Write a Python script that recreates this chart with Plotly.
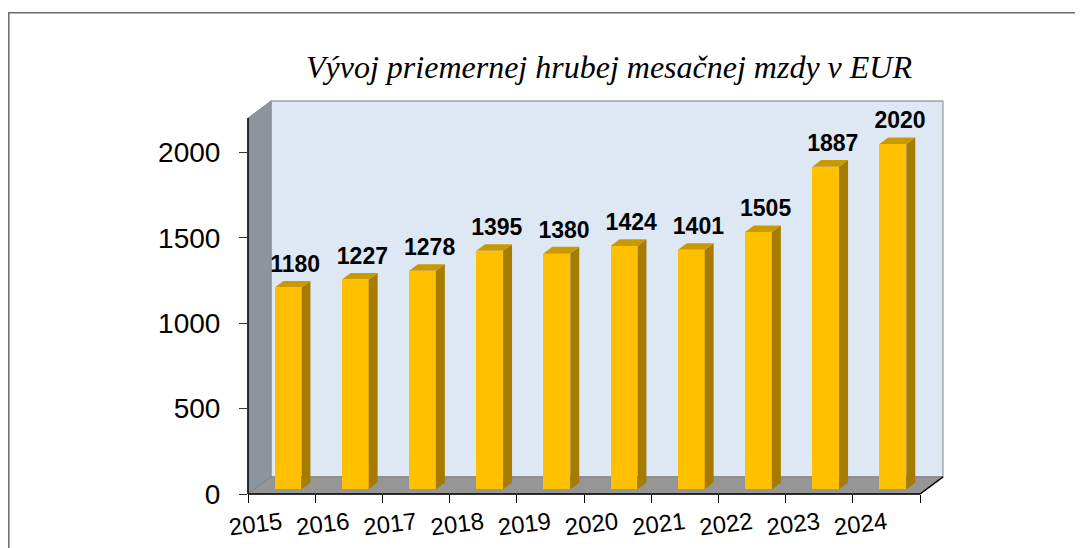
import plotly.graph_objects as go

# ---------------- data ----------------
years = ['2015', '2016', '2017', '2018', '2019', '2020', '2021', '2022', '2023', '2024']
wages = [1180, 1227, 1278, 1395, 1380, 1424, 1401, 1505, 1887, 2020]
y_tick_values = [0, 500, 1000, 1500, 2000]
title_text = 'Vývoj priemernej hrubej mesačnej mzdy v EUR'

# ---------------- geometry / style ----------------
OFF = 8                      # page body margin
W, H = 1075, 540
# target pixel positions in the screenshot
PLOT_LEFT, PLOT_RIGHT, PLOT_TOP, PLOT_BOTTOM = 248, 943, 101, 494
ML = PLOT_LEFT - OFF
MR = W - (PLOT_RIGHT - OFF)
MT = PLOT_TOP - OFF
MB = H - (PLOT_BOTTOM - OFF)
PLOT_W = W - ML - MR
PLOT_H = H - MT - MB

N = len(years)
Y_AXIS_MAX = 2200
DEPTH_X = 0.342        # depth offset in category units
DEPTH_Y = 100          # depth offset in value units
XMAX = N + DEPTH_X
YMAX = Y_AXIS_MAX + DEPTH_Y

BAR_W = 0.4
F_FRONT = 0.28
F_DEPTH = 0.39

FRONT = '#FFC000'
SIDE = '#A57B00'
TOP = '#C99A00'
WALL_BACK = '#DEE8F5'
WALL_LEFT = '#8C959E'
FLOOR = '#969696'


def dpx(x):  # data x -> paper
    return x / XMAX


def dpy(y):  # data y -> paper
    return y / YMAX


def ppx(p):  # screenshot pixel x -> paper
    return (p - PLOT_LEFT) / PLOT_W


def ppy(p):  # screenshot pixel y -> paper
    return (PLOT_BOTTOM - p) / PLOT_H


def path(points):
    return 'M ' + ' L '.join(f'{dpx(x):.6f},{dpy(y):.6f}' for x, y in points) + ' Z'


fig = go.Figure()

# bar front faces
base = F_FRONT * DEPTH_Y
cx = [i + 0.5 + F_FRONT * DEPTH_X for i in range(N)]
fig.add_trace(go.Bar(x=cx, y=wages, base=base, width=BAR_W,
                     marker=dict(color=FRONT, line=dict(width=0)),
                     hoverinfo='skip', showlegend=False))

ddx = F_DEPTH * DEPTH_X
ddy = F_DEPTH * DEPTH_Y

# side and top faces
sx, sy = [], []
tx, ty = [], []
for c, v in zip(cx, wages):
    xl, xr = c - BAR_W / 2, c + BAR_W / 2
    yb, yt = base, base + v
    sx += [xr, xr + ddx, xr + ddx, xr, xr, None]
    sy += [yb, yb + ddy, yt + ddy, yt, yb, None]
    tx += [xl, xr, xr + ddx, xl + ddx, xl, None]
    ty += [yt, yt, yt + ddy, yt + ddy, yt, None]

fig.add_trace(go.Scatter(x=sx, y=sy, mode='lines', fill='toself', fillcolor=SIDE,
                         line=dict(width=0, color=SIDE), hoverinfo='skip', showlegend=False))
fig.add_trace(go.Scatter(x=tx, y=ty, mode='lines', fill='toself', fillcolor=TOP,
                         line=dict(width=0, color=TOP), hoverinfo='skip', showlegend=False))

# data labels
fig.add_trace(go.Scatter(
    x=[c + ddx / 2 + 0.04 for c in cx],
    y=[base + v + ddy + 20 for v in wages],
    mode='text', text=[f'<b>{v}</b>' for v in wages], textposition='top center',
    textfont=dict(family='Liberation Sans, Arial', size=23, color='black'),
    cliponaxis=False, hoverinfo='skip', showlegend=False))

shapes = []
# outer frame
shapes.append(dict(type='rect', xref='paper', yref='paper', layer='below',
                   x0=ppx(8.8), x1=ppx(1110), y0=ppy(590), y1=ppy(12.7),
                   line=dict(color='#6B6B6B', width=1.5), fillcolor='white'))
# back wall
shapes.append(dict(type='path', xref='paper', yref='paper', layer='below',
                   path=path([(DEPTH_X, DEPTH_Y), (N + DEPTH_X, DEPTH_Y),
                              (N + DEPTH_X, YMAX), (DEPTH_X, YMAX)]),
                   fillcolor=WALL_BACK, line=dict(color='#A0A0A0', width=1.3)))
# left wall
shapes.append(dict(type='path', xref='paper', yref='paper', layer='below',
                   path=path([(0, 0), (DEPTH_X, DEPTH_Y), (DEPTH_X, YMAX), (0, Y_AXIS_MAX)]),
                   fillcolor=WALL_LEFT, line=dict(color='#8A8A8A', width=1)))
# floor
shapes.append(dict(type='path', xref='paper', yref='paper', layer='below',
                   path=path([(0, 0), (N, 0), (N + DEPTH_X, DEPTH_Y), (DEPTH_X, DEPTH_Y)]),
                   fillcolor=FLOOR, line=dict(color='#7F7F7F', width=1)))
# axis lines
for (x0, y0, x1, y1) in [(0, 0, 0, Y_AXIS_MAX), (0, 0, N, 0), (N, 0, N + DEPTH_X, DEPTH_Y)]:
    shapes.append(dict(type='line', xref='paper', yref='paper', layer='above',
                       x0=dpx(x0), y0=dpy(y0), x1=dpx(x1), y1=dpy(y1),
                       line=dict(color='black', width=1.5)))

fig.update_layout(
    width=W, height=H,
    margin=dict(l=ML, r=MR, t=MT, b=MB, autoexpand=False),
    paper_bgcolor='white', plot_bgcolor='rgba(0,0,0,0)',
    shapes=shapes,
    bargap=0,
    title=dict(text=f'<i>{title_text}</i>', xref='paper', yref='container',
               x=ppx(609), xanchor='center', y=1 - (67 - OFF) / H, yanchor='middle',
               font=dict(family='Liberation Serif, Times New Roman', size=32, color='black')),
    xaxis=dict(range=[0, XMAX], tickmode='array',
               tickvals=[i + 0.5 for i in range(N)], ticktext=years,
               ticks='', tickangle=-7, showgrid=False, zeroline=False, showline=False,
               tickfont=dict(family='Liberation Sans, Arial', size=24, color='black'),
               ticklabelstandoff=10,
               minor=dict(tickmode='array', tickvals=list(range(N + 1)), ticks='outside',
                          ticklen=8, tickcolor='black', tickwidth=1.2, showgrid=False),
               automargin=False, fixedrange=True),
    yaxis=dict(range=[0, YMAX], tickmode='array', tickvals=y_tick_values,
               ticks='outside', ticklen=8, tickcolor='#333333', tickwidth=1.2,
               showgrid=False, zeroline=False, showline=False,
               tickfont=dict(family='Liberation Sans, Arial', size=28, color='black'),
               ticklabelstandoff=13, automargin=False, fixedrange=True),
)

fig.write_html('out.html')
